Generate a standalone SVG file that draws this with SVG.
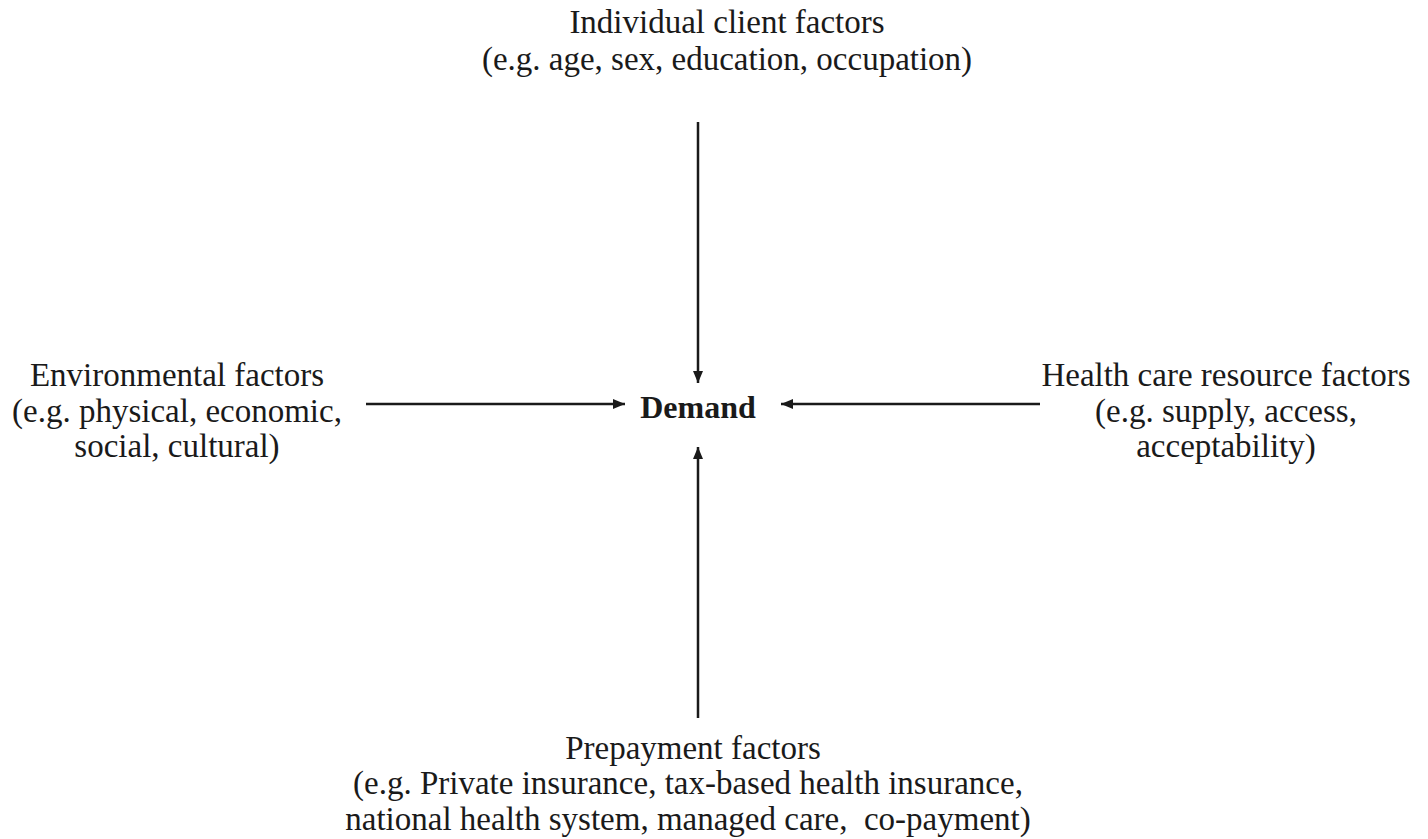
<svg xmlns="http://www.w3.org/2000/svg" width="1428" height="839" viewBox="0 0 1428 839">
<style>
text{font-family:"Liberation Serif","Times New Roman",serif;font-size:33px;fill:#1a1a1a;text-anchor:middle}
.b{font-weight:bold;font-size:32px}
.c{stroke:#1a1a1a;stroke-width:2.5;fill:none}
</style>
<defs>
<marker id="ah" viewBox="0 0 12 10" refX="12" refY="5" markerWidth="12" markerHeight="10" orient="auto" markerUnits="userSpaceOnUse">
<path d="M0,0 L12,5 L0,10 z" fill="#1a1a1a"/>
</marker>
</defs>
<rect width="1428" height="839" fill="#fff"/>
<g id="individual">
<text x="727" y="33">Individual client factors</text>
<text x="727" y="70">(e.g. age, sex, education, occupation)</text>
</g>
<g id="environmental">
<text x="177" y="386">Environmental factors</text>
<text x="177" y="422">(e.g. physical, economic,</text>
<text x="177" y="457">social, cultural)</text>
</g>
<g id="demand">
<text class="b" x="698" y="418">Demand</text>
</g>
<g id="healthcare">
<text x="1226" y="386">Health care resource factors</text>
<text x="1226" y="422">(e.g. supply, access,</text>
<text x="1226" y="457">acceptability)</text>
</g>
<g id="prepayment">
<text x="693" y="759">Prepayment factors</text>
<text x="688" y="794">(e.g. Private insurance, tax-based health insurance,</text>
<text x="688" y="830">national health system, managed care,&#160; co-payment)</text>
</g>
<g id="connectors">
<line class="c" x1="698" y1="122" x2="698" y2="383" marker-end="url(#ah)"/>
<line class="c" x1="366" y1="404" x2="625" y2="404" marker-end="url(#ah)"/>
<line class="c" x1="1040" y1="404" x2="781" y2="404" marker-end="url(#ah)"/>
<line class="c" x1="698" y1="718" x2="698" y2="447" marker-end="url(#ah)"/>
</g>
</svg>
